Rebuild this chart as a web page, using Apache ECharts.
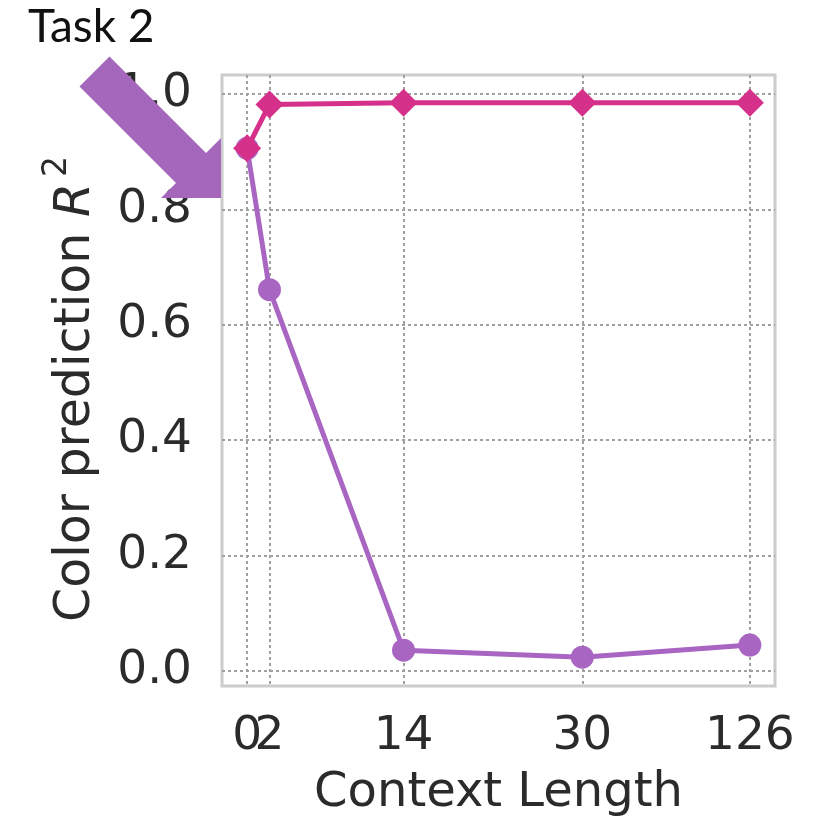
<!DOCTYPE html>
<html>
<head>
<meta charset="utf-8">
<script src="https://cdn.jsdelivr.net/npm/echarts@6/dist/echarts.min.js"></script>
<style>
  html, body { margin: 0; padding: 0; background: #ffffff; }
  #chart { width: 820px; height: 820px; }
</style>
</head>
<body>
<div id="chart"></div>
<script>
// Context lengths and where each sits on the x axis (126 is drawn compressed)
const contextLabels = ['0', '2', '14', '30', '126'];
const contextPos = [0, 2, 14, 30, 45];

// R^2 of color prediction per context length
const seriesA = [0.906, 0.982, 0.985, 0.985, 0.985]; // magenta diamonds
const seriesB = [0.906, 0.661, 0.036, 0.024, 0.045]; // purple circles

// y tick values
const yTicks = [0.0, 0.2, 0.4, 0.6, 0.8, 1.0];

const textColor = '#2b2b2b';
const axisFont = 'DejaVu Sans';
const pink = '#d6318a';
const purple = '#a965c2';
const gridLine = { show: true, lineStyle: { color: '#a0a0a0', width: 2, type: [3, 3] } };

function pairs(ys) {
  return contextPos.map((x, i) => [x, ys[i]]);
}
function labelFor(v) {
  return contextLabels[contextPos.indexOf(v)];
}

// the "2" label sits on its own axis so it is not dropped next to "0"
const mainLabelPos = contextPos.filter((_, i) => i !== 1);
const extraLabelPos = [contextPos[1]];

const xLabelStyle = {
  formatter: labelFor,
  hideOverlap: false,
  fontFamily: axisFont, fontSize: 47, color: textColor, margin: 27
};

const chart = echarts.init(document.getElementById('chart'), null, { renderer: 'canvas' });

chart.setOption({
  backgroundColor: '#ffffff',
  animation: false,
  grid: {
    left: 222, top: 75, width: 553, height: 611,
    containLabel: false,
    outerBoundsMode: 'none',
    show: true, backgroundColor: '#ffffff',
    borderColor: '#cccccc', borderWidth: 3
  },
  xAxis: [
    {
      type: 'value',
      min: -2.25, max: 47.25,
      axisLine: { show: false },
      axisTick: { show: false, customValues: contextPos },
      splitLine: gridLine,
      axisLabel: Object.assign({ customValues: mainLabelPos }, xLabelStyle),
      name: 'Context Length',
      nameLocation: 'middle',
      nameGap: 84,
      nameTextStyle: { fontFamily: axisFont, fontSize: 48, color: textColor }
    },
    {
      type: 'value',
      position: 'bottom',
      min: -2.25, max: 47.25,
      axisLine: { show: false },
      axisTick: { show: false, customValues: extraLabelPos },
      splitLine: { show: false },
      axisLabel: Object.assign({ customValues: extraLabelPos }, xLabelStyle)
    }
  ],
  yAxis: {
    type: 'value',
    min: -0.026, max: 1.033,
    axisLine: { show: false },
    axisTick: { show: false, customValues: yTicks },
    splitLine: gridLine,
    axisLabel: {
      customValues: yTicks,
      formatter: v => v.toFixed(1),
      hideOverlap: false,
      fontFamily: axisFont, fontSize: 47, color: textColor, margin: 30
    }
  },
  series: [
    {
      type: 'line',
      data: pairs(seriesB),
      symbol: 'circle',
      symbolSize: 23,
      lineStyle: { color: purple, width: 5 },
      itemStyle: { color: purple },
      z: 2
    },
    {
      type: 'line',
      data: pairs(seriesA),
      symbol: 'diamond',
      symbolSize: 28,
      lineStyle: { color: pink, width: 5 },
      itemStyle: { color: pink },
      z: 3
    }
  ],
  graphic: [
    {
      // y axis title R^2, written bottom to top
      type: 'text',
      x: 76, y: 622,
      rotation: Math.PI / 2,
      z: 5,
      style: {
        text: '{t|Color prediction }{r|R}{s|2}',
        align: 'left', verticalAlign: 'middle',
        rich: {
          t: { fontFamily: axisFont, fontSize: 49, lineHeight: 70, fill: textColor },
          r: { fontFamily: axisFont, fontSize: 49, lineHeight: 70, fontStyle: 'italic', fill: textColor },
          s: { fontFamily: axisFont, fontSize: 33, lineHeight: 33, verticalAlign: 'top', padding: [0, 0, 0, 6], fill: textColor }
        }
      }
    },
    {
      type: 'text',
      left: 28, top: 4,
      z: 10,
      style: { text: 'Task 2', font: '46px Lato', fill: '#111111' }
    },
    {
      type: 'polygon',
      z: 10,
      shape: {
        points: [
          [109.5, 56.5], [206, 153], [221, 138], [221, 198],
          [161, 198], [176, 183], [79.5, 86.5]
        ]
      },
      style: { fill: '#a467bb' }
    }
  ]
});
</script>
</body>
</html>
